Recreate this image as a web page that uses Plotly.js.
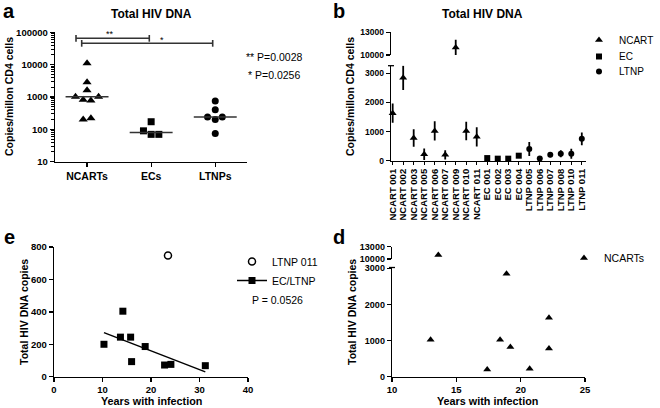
<!DOCTYPE html>
<html>
<head>
<meta charset="utf-8">
<script src="https://cdn.plot.ly/plotly-3.0.1.min.js"></script>
<style>
  html, body { margin: 0; padding: 0; background: #fff; }
  #chart { width: 660px; height: 408px; }
</style>
</head>
<body>
<div id="chart"></div>
<script>
// ---- data ----
const groupNames = ['NCARTs', 'ECs', 'LTNPs'];

const ncartIds = ['NCART 001', 'NCART 002', 'NCART 003', 'NCART 005', 'NCART 006',
                  'NCART 007', 'NCART 009', 'NCART 010', 'NCART 011'];
const ncartCopies = [1630, 2850, 780, 220, 1020, 200, 11000, 1020, 820];
const ncartErr = [330, 420, 300, 200, 330, 160, 1000, 320, 330];
const ncartJitter = [0, 0, 0.06, 0.06, -0.18, -0.06, 0, 0.18, -0.06];
const ncartYears = [22.2, 18.9, 22.2, 20.7, 13.0, 17.4, 13.6, 18.4, 19.2];

const ecIds = ['EC 001', 'EC 002', 'EC 003', 'EC 004'];
const ecCopies = [90, 70, 70, 172];
const ecErr = [15, 10, 10, 30];
const ecJitter = [-0.12, 0, 0.12, 0];

const ltnpIds = ['LTNP 005', 'LTNP 006', 'LTNP 007', 'LTNP 008', 'LTNP 010', 'LTNP 011'];
const ltnpCopies = [400, 75, 200, 240, 240, 750];
const ltnpErr = [240, 30, 80, 120, 170, 220];
const ltnpJitter = [0, 0, 0, -0.12, 0.11, 0];

// panel e: EC/LTNP copies vs years with infection
const ecLtnpYears = [10.3, 13.7, 14.2, 15.8, 16.0, 18.8, 22.8, 24.1, 31.2];
const ecLtnpCopies = [200, 244, 404, 244, 93, 186, 72, 76, 68];
const ltnp011Years = [23.5];
const ltnp011Copies = [748];

const breakAt = 10000;

// ---- helpers ----
const W = 660, H = 408;
const px = x => x / W;
const py = y => 1 - y / H;
const FONT = '"Liberation Sans", Arial, sans-serif';
const bold = size => ({ family: FONT, size: size, color: '#000', weight: 'bold' });
const plain = size => ({ family: FONT, size: size, color: '#000' });

function axis(extra) {
  return Object.assign({
    showgrid: false, zeroline: false, showline: true,
    linecolor: '#000', linewidth: 1.3,
    ticks: 'outside', ticklen: 4, tickwidth: 1.3, tickcolor: '#000',
    tickfont: bold(10), tickformat: 'd', fixedrange: true
  }, extra);
}

function median(arr) {
  const s = arr.slice().sort((a, b) => a - b);
  const m = Math.floor(s.length / 2);
  return s.length % 2 ? s[m] : (s[m - 1] + s[m]) / 2;
}

function linearFit(xs, ys) {
  const n = xs.length;
  const mx = xs.reduce((a, b) => a + b, 0) / n;
  const my = ys.reduce((a, b) => a + b, 0) / n;
  let sxy = 0, sxx = 0;
  xs.forEach((x, i) => { sxy += (x - mx) * (ys[i] - my); sxx += (x - mx) * (x - mx); });
  const slope = sxy / sxx;
  return { slope: slope, intercept: my - slope * mx };
}

const groups = [
  { ids: ncartIds, copies: ncartCopies, err: ncartErr, jitter: ncartJitter, symbol: 'triangle-up', legend: 'NCART', legendId: 'legend', size: 8 },
  { ids: ecIds, copies: ecCopies, err: ecErr, jitter: ecJitter, symbol: 'square', legend: 'EC', legendId: 'legend4', size: 7 },
  { ids: ltnpIds, copies: ltnpCopies, err: ltnpErr, jitter: ltnpJitter, symbol: 'circle', legend: 'LTNP', legendId: 'legend5', size: 7 }
];
const allIds = ncartIds.concat(ecIds, ltnpIds);

const traces = [];

// ---- panel a: scatter dot plot with medians (log) ----
groups.forEach((g, gi) => {
  traces.push({
    x: g.copies.map((v, i) => gi + g.jitter[i]),
    y: g.copies,
    xaxis: 'x', yaxis: 'y',
    type: 'scatter', mode: 'markers',
    marker: { symbol: g.symbol, size: g.size, color: '#000' },
    showlegend: false, cliponaxis: false
  });
  const med = median(g.copies);
  traces.push({
    x: [gi - 0.335, gi + 0.335],
    y: [med, med],
    xaxis: 'x', yaxis: 'y',
    type: 'scatter', mode: 'lines',
    line: { color: '#333', width: 1.6 },
    showlegend: false
  });
});

// ---- panel b: per subject with error bars, broken y axis ----
groups.forEach(g => {
  const low = g.copies.map((v, i) => i).filter(i => g.copies[i] < breakAt);
  const high = g.copies.map((v, i) => i).filter(i => g.copies[i] >= breakAt);
  const base = {
    type: 'scatter', mode: 'markers', xaxis: 'x2',
    marker: { symbol: g.symbol, size: g.size - 1, color: '#000' },
    cliponaxis: false
  };
  traces.push(Object.assign({}, base, {
    x: low.map(i => g.ids[i]), y: low.map(i => g.copies[i]), yaxis: 'y2',
    error_y: { type: 'data', array: low.map(i => g.err[i]), color: '#000', thickness: 1.8, width: 0 },
    name: g.legend, legend: g.legendId, showlegend: true
  }));
  if (high.length) {
    traces.push(Object.assign({}, base, {
      x: high.map(i => g.ids[i]), y: high.map(i => g.copies[i]), yaxis: 'y3',
      error_y: { type: 'data', array: high.map(i => g.err[i]), color: '#000', thickness: 1.8, width: 0 },
      showlegend: false
    }));
  }
});

// ---- panel e: EC/LTNP vs years, with linear fit ----
const fit = linearFit(ecLtnpYears, ecLtnpCopies);
const fitX = [Math.min(...ecLtnpYears), Math.max(...ecLtnpYears)];
traces.push({
  x: ltnp011Years, y: ltnp011Copies, xaxis: 'x4', yaxis: 'y4',
  type: 'scatter', mode: 'markers', name: 'LTNP 011',
  marker: { symbol: 'circle-open', size: 7, color: '#000', line: { width: 1.5 } },
  legend: 'legend2', cliponaxis: false
});
traces.push({
  x: ecLtnpYears, y: ecLtnpCopies, xaxis: 'x4', yaxis: 'y4',
  type: 'scatter', mode: 'markers',
  marker: { symbol: 'square', size: 7, color: '#000' },
  showlegend: false, cliponaxis: false
});
traces.push({
  x: fitX, y: fitX.map(x => fit.slope * x + fit.intercept), xaxis: 'x4', yaxis: 'y4',
  type: 'scatter', mode: 'lines', line: { color: '#000', width: 1.5 },
  showlegend: false
});
traces.push({
  x: [null], y: [null], xaxis: 'x4', yaxis: 'y4',
  type: 'scatter', mode: 'lines+markers', name: 'EC/LTNP',
  line: { color: '#000', width: 1.5 },
  marker: { symbol: 'square', size: 7, color: '#000' },
  legend: 'legend2'
});

// ---- panel d: NCARTs vs years, broken y axis ----
const dLow = ncartCopies.map((v, i) => i).filter(i => ncartCopies[i] < breakAt);
const dHigh = ncartCopies.map((v, i) => i).filter(i => ncartCopies[i] >= breakAt);
traces.push({
  x: dLow.map(i => ncartYears[i]), y: dLow.map(i => ncartCopies[i]),
  xaxis: 'x5', yaxis: 'y5', type: 'scatter', mode: 'markers', name: 'NCARTs',
  marker: { symbol: 'triangle-up', size: 7, color: '#000' },
  legend: 'legend3', cliponaxis: false
});
traces.push({
  x: dHigh.map(i => ncartYears[i]), y: dHigh.map(i => ncartCopies[i]),
  xaxis: 'x5', yaxis: 'y6', type: 'scatter', mode: 'markers',
  marker: { symbol: 'triangle-up', size: 7, color: '#000' },
  showlegend: false, cliponaxis: false
});

// ---- decorations ----
const ann = (x, y, text, font, extra) => Object.assign({
  x: px(x), y: py(y), xref: 'paper', yref: 'paper', text: text, showarrow: false,
  font: font, xanchor: 'center', yanchor: 'middle'
}, extra || {});

const annotations = [
  ann(9, 11, 'a', bold(20)),
  ann(339, 11, 'b', bold(20)),
  ann(9, 237, 'e', bold(20)),
  ann(339, 237, 'd', bold(20)),
  ann(151, 14, 'Total HIV DNA', bold(12)),
  ann(482, 14, 'Total HIV DNA', bold(12)),
  ann(9, 97, 'Copies/millon CD4 cells', bold(10.5), { textangle: -90 }),
  ann(350, 97, 'Copies/millon CD4 cells', bold(10.5), { textangle: -90 }),
  ann(24, 312, 'Total HIV DNA copies', bold(10.5), { textangle: -90 }),
  ann(352, 312, 'Total HIV DNA copies', bold(10.5), { textangle: -90 }),
  ann(151, 401, 'Years with infection', bold(10.8)),
  ann(487, 401, 'Years with infection', bold(10.8)),
  ann(274, 57, '** P=0.0028', plain(10.5)),
  ann(274, 75, '* P=0.0256', plain(10.5)),
  ann(110, 34, '**', plain(9)),
  ann(162, 40, '*', plain(9)),
  ann(250, 300, 'P = 0.0526', plain(10.5), { xanchor: 'left' })
];

const seg = (x0, y0, x1, y1, w, c) => ({
  type: 'line', xref: 'paper', yref: 'paper',
  x0: px(x0), y0: py(y0), x1: px(x1), y1: py(y1),
  line: { color: c || '#333', width: w || 1.6 }
});

const shapes = [
  // significance brackets
  seg(76, 38.3, 149.3, 38.3), seg(76, 35, 76, 41.7), seg(149.3, 35, 149.3, 41.7),
  seg(81.7, 43.3, 212.7, 43.3), seg(81.7, 40, 81.7, 46.7), seg(212.7, 40, 212.7, 46.7),
  // axis-break caps
  seg(388, 65.7, 394, 65.7, 1.3, '#000'),
  seg(389, 267.5, 395, 267.5, 1.3, '#000')
];

const legendBox = (x, y, size) => ({
  x: px(x), y: py(y), xanchor: 'left', yanchor: 'middle',
  font: plain(size), bgcolor: 'rgba(0,0,0,0)', borderwidth: 0
});

const layout = {
  width: W, height: H,
  margin: { l: 0, r: 0, t: 0, b: 0 },
  paper_bgcolor: '#fff', plot_bgcolor: 'rgba(0,0,0,0)',
  font: plain(10),
  hovermode: false,
  // a
  xaxis: axis({ domain: [px(55), px(247.3)], range: [-0.5, 2.5], anchor: 'y',
    tickvals: [0, 1, 2], ticktext: groupNames, tickfont: bold(10.5) }),
  yaxis: axis({ domain: [py(161.7), py(32.3)], type: 'log', range: [1, 5], anchor: 'x',
    dtick: 1, tickfont: bold(9.5),
    minor: { ticks: 'outside', ticklen: 2.5, tickwidth: 1, tickcolor: '#000', dtick: 'D1' } }),
  // b
  xaxis2: axis({ domain: [px(391), px(586)], range: [-0.16, 18.4], anchor: 'y2',
    type: 'category', categoryorder: 'array', categoryarray: allIds,
    tickmode: 'array', tickvals: allIds, ticktext: allIds,
    tickangle: -90, tickfont: bold(9.5), ticklen: 3 }),
  yaxis2: axis({ domain: [py(160.7), py(65.7)], range: [0, 3260], anchor: 'x2',
    tickvals: [0, 1000, 2000, 3000], tickfont: bold(8.5) }),
  yaxis3: axis({ domain: [py(55), py(32.3)], range: [10000, 13000], anchor: 'x2',
    tickvals: [10000, 13000], tickfont: bold(8.5) }),
  // e
  xaxis4: axis({ domain: [px(54), px(248)], range: [0, 40], anchor: 'y4',
    tickvals: [0, 10, 20, 30, 40], tickfont: bold(9.5) }),
  yaxis4: axis({ domain: [py(376.7), py(247)], range: [0, 800], anchor: 'x4',
    tickvals: [0, 200, 400, 600, 800], tickfont: bold(9.5) }),
  // d
  xaxis5: axis({ domain: [px(392), px(585)], range: [10, 25], anchor: 'y5',
    tickvals: [10, 15, 20, 25], tickfont: bold(9.5) }),
  yaxis5: axis({ domain: [py(376.7), py(267.5)], range: [0, 3020], anchor: 'x5',
    tickvals: [0, 1000, 2000, 3000], tickfont: bold(9) }),
  yaxis6: axis({ domain: [py(259), py(246.7)], range: [10000, 13000], anchor: 'x5',
    tickvals: [10000, 13000], tickfont: bold(9) }),
  legend: legendBox(579, 40, 10),
  legend4: legendBox(579, 56.5, 10),
  legend5: legendBox(579, 71.5, 10),
  legend2: { x: px(232), y: py(247), xanchor: 'left', yanchor: 'top',
    font: plain(10.5), bgcolor: 'rgba(0,0,0,0)' },
  legend3: legendBox(564, 258, 10.5),
  annotations: annotations,
  shapes: shapes
};

Plotly.newPlot('chart', traces, layout, { staticPlot: true, displayModeBar: false });
</script>
</body>
</html>
